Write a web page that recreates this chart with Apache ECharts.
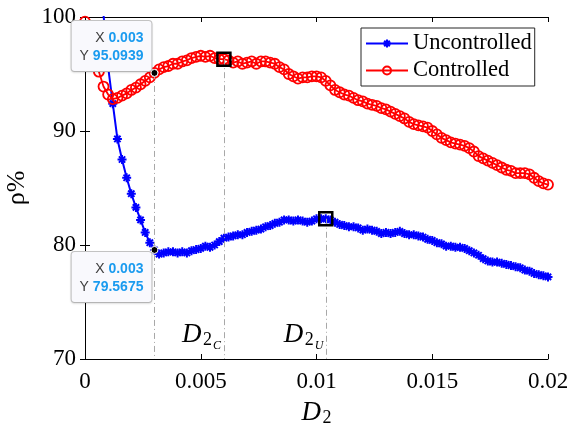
<!DOCTYPE html>
<html>
<head>
<meta charset="utf-8">
<script src="https://cdn.jsdelivr.net/npm/echarts@6/dist/echarts.min.js"></script>
<style>html,body{margin:0;padding:0;background:#fff}#c{width:570px;height:426px}</style>
</head>
<body>
<div id="c"></div>
<script>
const D2 = [
0,0.0002,0.0004,0.0006,0.0008,0.001,0.0012,0.0014,0.0016,0.0018,
0.002,0.0022,0.0024,0.0026,0.0028,0.003,0.0032,0.0034,0.0036,0.0038,
0.004,0.0042,0.0044,0.0046,0.0048,0.005,0.0052,0.0054,0.0056,0.0058,
0.006,0.0062,0.0064,0.0066,0.0068,0.007,0.0072,0.0074,0.0076,0.0078,
0.008,0.0082,0.0084,0.0086,0.0088,0.009,0.0092,0.0094,0.0096,0.0098,
0.01,0.0102,0.0104,0.0106,0.0108,0.011,0.0112,0.0114,0.0116,0.0118,
0.012,0.0122,0.0124,0.0126,0.0128,0.013,0.0132,0.0134,0.0136,0.0138,
0.014,0.0142,0.0144,0.0146,0.0148,0.015,0.0152,0.0154,0.0156,0.0158,
0.016,0.0162,0.0164,0.0166,0.0168,0.017,0.0172,0.0174,0.0176,0.0178,
0.018,0.0182,0.0184,0.0186,0.0188,0.019,0.0192,0.0194,0.0196,0.0198,
0.02];
const uncontrolled = [
118,113,108,103.5,100.2,95.6,92.4,89.3,87.5,85.9,
84.5,83.3,82.2,81.1,80.2,79.5675,79.2,79.3,79.4,79.4,
79.3,79.4,79.3,79.5,79.6,79.7,79.9,79.8,80.0,80.3,
80.6,80.7,80.8,80.9,80.9,81.1,81.2,81.3,81.4,81.6,
81.7,81.9,82.0,82.2,82.2,82.1,82.2,82.1,82.0,82.1,
82.3,82.3,82.3,82.2,82.0,81.8,81.7,81.6,81.6,81.5,
81.3,81.4,81.3,81.2,81.0,81.1,81.0,81.1,81.2,81.0,
80.9,80.9,80.8,80.7,80.5,80.4,80.2,80.1,79.9,79.9,
79.8,79.8,79.7,79.5,79.3,79.1,78.8,78.6,78.5,78.5,
78.4,78.3,78.2,78.1,78.0,77.8,77.7,77.5,77.4,77.3,
77.2];
const controlled = [
99.6,98.5,96.8,95.2,93.9,93.2,92.8,92.9,93.1,93.3,
93.6,93.8,94.1,94.4,94.7,95.0939,95.4,95.6,95.7,95.9,
95.9,96.1,96.2,96.4,96.5,96.6,96.5,96.6,96.4,96.3,
96.3,96.2,96.0,96.1,95.9,96.0,96.1,95.9,96.1,96.1,
96.0,95.9,95.6,95.4,95.0,94.8,94.6,94.7,94.7,94.8,
94.8,94.7,94.4,94.0,93.6,93.4,93.2,93.1,92.9,92.7,
92.6,92.4,92.3,92.2,92.0,91.9,91.7,91.5,91.3,91.1,
90.8,90.6,90.5,90.4,90.3,90.0,89.7,89.4,89.2,89.0,
88.9,88.8,88.7,88.5,88.2,87.8,87.6,87.4,87.2,87.0,
86.8,86.6,86.5,86.3,86.3,86.3,86.2,85.9,85.6,85.4,
85.3];
const seriesNames = ['Uncontrolled', 'Controlled'];
const xTickLabels = ['0', '0.005', '0.01', '0.015', '0.02'];
const yTickLabels = ['70', '80', '90', '100'];
const optimumIndexC = 30;   // D2 = 0.006
const optimumIndexU = 52;   // D2 = 0.0104
const datatipIndex = 15;    // D2 = 0.003
const datatipText = [['0.003', '95.0939'], ['0.003', '79.5675']];
const optimumLabels = [['C', optimumIndexC], ['U', optimumIndexU]];

const xMin = 0, xMax = 0.02, xStep = 0.005;
const yMin = 70, yMax = 100, yStep = 10;

const pts = (ys) => D2.map((x, i) => [x, ys[i]]);
const asterisk = 'path://M5,0L5,10M0,5L10,5M1.5,1.5L8.5,8.5M1.5,8.5L8.5,1.5';
const serif = '"Liberation Serif","Times New Roman",serif';
const sans = '"Liberation Sans",Arial,sans-serif';

const chart = echarts.init(document.getElementById('c'), null, {renderer: 'canvas'});

const axisCommon = {
  type: 'value', min: xMin, max: xMax, interval: xStep,
  axisLine: {show: true, lineStyle: {color: '#000', width: 1}},
  axisTick: {show: true, inside: true, length: 5, lineStyle: {color: '#000', width: 1}},
  splitLine: {show: false}
};

const tipData = [
  {value: [D2[datatipIndex], controlled[datatipIndex]], lbl: datatipText[0], up: true},
  {value: [D2[datatipIndex], uncontrolled[datatipIndex]], lbl: datatipText[1], up: false}
];

const option = {
  animation: false,
  backgroundColor: '#fff',
  grid: {left: 85, top: 17, width: 463, height: 342, containLabel: false, outerBoundsMode: 'none'},
  legend: {
    orient: 'vertical', left: 361, top: 28,
    padding: [4, 3, 4, 4], itemGap: 4, itemWidth: 42, itemHeight: 10,
    backgroundColor: '#fff', borderColor: '#262626', borderWidth: 1, borderRadius: 0,
    textStyle: {fontFamily: serif, fontSize: 22.5, color: '#000'},
    data: seriesNames
  },
  xAxis: [
    Object.assign({}, axisCommon, {
      position: 'bottom',
      axisLabel: {
        fontFamily: serif, fontSize: 23, color: '#000', margin: 11,
        formatter: v => xTickLabels[Math.round((v - xMin) / xStep)]
      }
    }),
    Object.assign({}, axisCommon, {position: 'top', axisLabel: {show: false}})
  ],
  yAxis: [
    Object.assign({}, axisCommon, {
      min: yMin, max: yMax, interval: yStep, position: 'left',
      name: 'ρ%', nameLocation: 'middle', nameGap: 36, nameRotate: 90,
      nameTextStyle: {fontFamily: serif, fontSize: 26, color: '#000'},
      axisLabel: {
        fontFamily: serif, fontSize: 23, color: '#000', margin: 9,
        formatter: v => yTickLabels[Math.round((v - yMin) / yStep)]
      }
    }),
    Object.assign({}, axisCommon, {min: yMin, max: yMax, interval: yStep, position: 'right', axisLabel: {show: false}})
  ],
  series: [
    {
      name: 'guides', type: 'line', data: [], xAxisIndex: 0, yAxisIndex: 0, z: 1,
      markLine: {
        silent: true, symbol: 'none', animation: false,
        label: {show: false},
        lineStyle: {color: '#a8a8a8', width: 1, type: [6, 3, 1, 3]},
        data: [
          [{coord: [D2[datatipIndex], controlled[datatipIndex]]}, {coord: [D2[datatipIndex], yMin]}],
          [{coord: [D2[optimumIndexC], controlled[optimumIndexC]]}, {coord: [D2[optimumIndexC], yMin]}],
          [{coord: [D2[optimumIndexU], uncontrolled[optimumIndexU]]}, {coord: [D2[optimumIndexU], yMin]}]
        ]
      }
    },
    {
      name: seriesNames[0], type: 'line', data: pts(uncontrolled), xAxisIndex: 0, yAxisIndex: 0, z: 3,
      clip: true, showAllSymbol: true,
      symbol: asterisk, symbolSize: 9,
      lineStyle: {color: '#0000ff', width: 2},
      itemStyle: {color: '#0000ff', borderColor: '#0000ff', borderWidth: 2}
    },
    {
      name: seriesNames[1], type: 'line', data: pts(controlled), xAxisIndex: 0, yAxisIndex: 0, z: 4,
      clip: true, showAllSymbol: true,
      symbol: 'circle', symbolSize: 10,
      lineStyle: {color: '#ff0000', width: 1.8},
      itemStyle: {color: 'rgba(255,255,255,0)', borderColor: '#ff0000', borderWidth: 1.8}
    },
    {
      name: 'optimum', type: 'scatter', xAxisIndex: 0, yAxisIndex: 0, z: 5, silent: true,
      symbol: 'rect', symbolSize: 13,
      itemStyle: {color: 'rgba(0,0,0,0)', borderColor: '#000', borderWidth: 2.5, opacity: 1},
      data: [[D2[optimumIndexC], controlled[optimumIndexC]], [D2[optimumIndexU], uncontrolled[optimumIndexU]]]
    },
    {
      name: 'datatips', type: 'scatter', xAxisIndex: 0, yAxisIndex: 0, z: 6, silent: true,
      symbol: 'circle', symbolSize: 7,
      itemStyle: {color: '#000', borderColor: '#fff', borderWidth: 1, opacity: 1},
      data: tipData.map(d => ({
        value: d.value,
        label: {
          show: true,
          position: d.up ? [1, 2] : [1, 6],
          align: 'right', verticalAlign: d.up ? 'bottom' : 'top',
          fontFamily: sans, fontSize: 14, color: '#404040',
          formatter: '{k|X }{v|' + d.lbl[0] + '}\n{k|Y }{v|' + d.lbl[1] + '}',
          backgroundColor: '#f9f9fd', opacity: 1,
          borderColor: '#c4c4c4', borderWidth: 1, borderRadius: 3,
          padding: [8, 8, 6, 8],
          shadowColor: 'rgba(0,0,0,0.10)', shadowBlur: 2, shadowOffsetY: 1,
          rich: {
            k: {fontFamily: sans, fontSize: 14, color: '#404040', lineHeight: 18, align: 'right'},
            v: {fontFamily: sans, fontSize: 14, fontWeight: 'bold', color: '#1a9bef', lineHeight: 18, align: 'right'}
          }
        }
      }))
    }
  ]
};

chart.setOption(option);

// Axis title and D2 annotations, anchored in data coordinates
const graphics = [];
const toPx = (x, y) => chart.convertToPixel({xAxisIndex: 0, yAxisIndex: 0}, [x, y]);
function subText(left, midY, big, mid, small) {
  graphics.push({type: 'text', x: left, y: midY, z: 10,
    style: {text: big, font: 'italic 27px ' + serif, fill: '#000', verticalAlign: 'middle', align: 'left'}});
  graphics.push({type: 'text', x: left + 21, y: midY + 5, z: 10,
    style: {text: mid, font: '18px ' + serif, fill: '#000', verticalAlign: 'middle', align: 'left'}});
  if (small) {
    graphics.push({type: 'text', x: left + 31, y: midY + 11, z: 10,
      style: {text: small, font: 'italic 12px ' + serif, fill: '#000', verticalAlign: 'middle', align: 'left'}});
  }
}
optimumLabels.forEach(([s, idx]) => {
  const p = toPx(D2[idx], yMin);
  subText(p[0] - 42, p[1] - 24, 'D', '2', s);
});
const c0 = toPx((xMin + xMax) / 2, yMin);
subText(c0[0] - 15, c0[1] + 54, 'D', '2', null);
chart.setOption({graphic: graphics});
</script>
</body>
</html>
